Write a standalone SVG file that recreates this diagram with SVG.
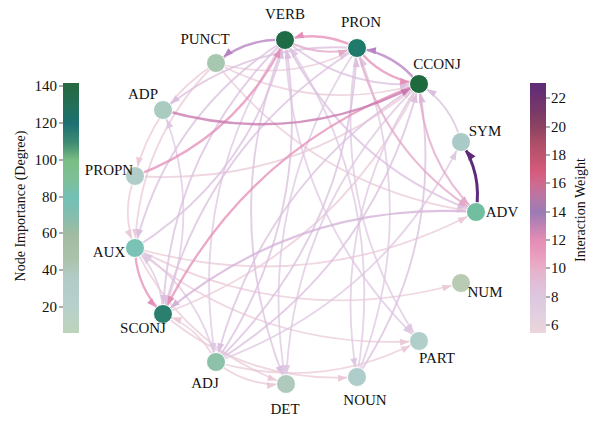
<svg xmlns="http://www.w3.org/2000/svg" width="594" height="421" viewBox="0 0 594 421">
<style>
text{font-family:"Liberation Serif",Tinos,"Times New Roman",Times,"Noto Serif","DejaVu Serif",FreeSerif,serif;font-size:15px;fill:#111}
.cbt{font-size:14px}
.e{fill:none;stroke-opacity:0.78;stroke-linecap:round}
.w6{stroke:#ebcbd9;stroke-width:1.8;marker-end:url(#m6)}
.w7{stroke:#dfc8e1;stroke-width:1.8;marker-end:url(#m7)}
.w8{stroke:#dbc0df;stroke-width:1.9;marker-end:url(#m8)}
.w9{stroke:#d4b2d8;stroke-width:2.1;marker-end:url(#m9)}
.w10{stroke:#e3a9c9;stroke-width:2.1;marker-end:url(#m10)}
.w12{stroke:#e590b9;stroke-width:2.3;marker-end:url(#m12)}
.w14{stroke:#b781c2;stroke-width:2.5;marker-end:url(#m14)}
.w16{stroke:#c878ae;stroke-width:2.5;marker-end:url(#m16)}
.w23{stroke:#5e2b7b;stroke-width:3;marker-end:url(#m23);stroke-opacity:1}
.n{stroke:#fff;stroke-width:1}
.tk{stroke:#333;stroke-width:0.8}
</style>
<defs>
<marker id="m6" viewBox="0 0 9 7" markerWidth="9" markerHeight="7" refX="19" refY="3.5" orient="auto" markerUnits="userSpaceOnUse" overflow="visible"><path d="M0,0 L9,3.5 L0,7 z" fill="#ebcbd9"/></marker>
<marker id="m7" viewBox="0 0 9 7" markerWidth="9" markerHeight="7" refX="19" refY="3.5" orient="auto" markerUnits="userSpaceOnUse" overflow="visible"><path d="M0,0 L9,3.5 L0,7 z" fill="#dfc8e1"/></marker>
<marker id="m8" viewBox="0 0 9 7" markerWidth="9" markerHeight="7" refX="19" refY="3.5" orient="auto" markerUnits="userSpaceOnUse" overflow="visible"><path d="M0,0 L9,3.5 L0,7 z" fill="#dbc0df"/></marker>
<marker id="m9" viewBox="0 0 9 7" markerWidth="9" markerHeight="7" refX="19" refY="3.5" orient="auto" markerUnits="userSpaceOnUse" overflow="visible"><path d="M0,0 L9,3.5 L0,7 z" fill="#d4b2d8"/></marker>
<marker id="m10" viewBox="0 0 9 7" markerWidth="9" markerHeight="7" refX="19" refY="3.5" orient="auto" markerUnits="userSpaceOnUse" overflow="visible"><path d="M0,0 L9,3.5 L0,7 z" fill="#e3a9c9"/></marker>
<marker id="m12" viewBox="0 0 9 7" markerWidth="9" markerHeight="7" refX="19" refY="3.5" orient="auto" markerUnits="userSpaceOnUse" overflow="visible"><path d="M0,0 L9,3.5 L0,7 z" fill="#e590b9"/></marker>
<marker id="m14" viewBox="0 0 9 7" markerWidth="9" markerHeight="7" refX="19" refY="3.5" orient="auto" markerUnits="userSpaceOnUse" overflow="visible"><path d="M0,0 L9,3.5 L0,7 z" fill="#b781c2"/></marker>
<marker id="m16" viewBox="0 0 9 7" markerWidth="9" markerHeight="7" refX="19" refY="3.5" orient="auto" markerUnits="userSpaceOnUse" overflow="visible"><path d="M0,0 L9,3.5 L0,7 z" fill="#c878ae"/></marker>
<marker id="m23" viewBox="0 0 10 8" markerWidth="10" markerHeight="8" refX="20" refY="4" orient="auto" markerUnits="userSpaceOnUse" overflow="visible"><path d="M0,0 L10,4 L0,8 z" fill="#5e2b7b"/></marker>
<linearGradient id="gl" x1="0" y1="0" x2="0" y2="1">
<stop offset="0" stop-color="#27683f"/>
<stop offset="0.1" stop-color="#226f5a"/>
<stop offset="0.16" stop-color="#1c6f72"/>
<stop offset="0.24" stop-color="#3f8b72"/>
<stop offset="0.31" stop-color="#7bbd85"/>
<stop offset="0.38" stop-color="#7ebf96"/>
<stop offset="0.46" stop-color="#73c0b6"/>
<stop offset="0.53" stop-color="#85bdae"/>
<stop offset="0.61" stop-color="#a2bca2"/>
<stop offset="0.7" stop-color="#aac2aa"/>
<stop offset="0.78" stop-color="#b3cbc7"/>
<stop offset="0.88" stop-color="#b6cfcc"/>
<stop offset="1" stop-color="#bdd4ba"/>
</linearGradient>
<linearGradient id="gr" x1="0" y1="0" x2="0" y2="1">
<stop offset="0" stop-color="#5e2b79"/>
<stop offset="0.12" stop-color="#7b3a66"/>
<stop offset="0.18" stop-color="#8e4461"/>
<stop offset="0.24" stop-color="#ad4e68"/>
<stop offset="0.35" stop-color="#d45a7a"/>
<stop offset="0.41" stop-color="#cd6c92"/>
<stop offset="0.46" stop-color="#b577a6"/>
<stop offset="0.52" stop-color="#9c7bb6"/>
<stop offset="0.58" stop-color="#c784b4"/>
<stop offset="0.63" stop-color="#e38eb4"/>
<stop offset="0.69" stop-color="#ea9dbe"/>
<stop offset="0.74" stop-color="#e8afc9"/>
<stop offset="0.8" stop-color="#e0bed6"/>
<stop offset="0.86" stop-color="#dcc8e0"/>
<stop offset="0.93" stop-color="#e3d0df"/>
<stop offset="1" stop-color="#ebd5da"/>
</linearGradient>
</defs>
<g id="connectors">
<path class="e w6" d="M135,176 Q120.6,212 135,248"/>
<path class="e w6" d="M216,63 Q313.3,114.1 419,84"/>
<path class="e w6" d="M216,63 Q289.5,83.7 357,48"/>
<path class="e w6" d="M216,63 Q152.9,103.3 135,176"/>
<path class="e w6" d="M216,63 Q138.5,139.3 135,248"/>
<path class="e w6" d="M135,248 Q312.7,298.2 476,212"/>
<path class="e w6" d="M135,248 Q291,330.7 461,283"/>
<path class="e w6" d="M135,248 Q258.4,351.3 419,341"/>
<path class="e w6" d="M216,362 Q321.7,392.1 419,341"/>
<path class="e w6" d="M216,362 Q246.6,387 286,384"/>
<path class="e w6" d="M163,314 Q247.4,384.3 357,377"/>
<path class="e w6" d="M216,362 Q199.1,327.4 163,314"/>
<path class="e w6" d="M163,314 Q337,250.2 419,84"/>
<path class="e w6" d="M216,63 Q316.2,189.5 476,212"/>
<path class="e w6" d="M135,176 Q295.4,186.8 419,84"/>
<path class="e w6" d="M135,248 Q183.3,346.2 286,384"/>
<path class="e w7" d="M163,314 Q203.8,212 163,110"/>
<path class="e w7" d="M357,377 Q388.4,194.1 285,40"/>
<path class="e w7" d="M357,48 Q254.3,201.8 286,384"/>
<path class="e w7" d="M285,40 Q291.8,217.3 419,341"/>
<path class="e w7" d="M357,48 Q329.4,206.9 419,341"/>
<path class="e w7" d="M285,40 Q186.1,187.2 216,362"/>
<path class="e w7" d="M216,362 Q382.5,301 461,142"/>
<path class="e w7" d="M357,377 Q422.8,212.5 357,48"/>
<path class="e w7" d="M216,362 Q198.3,288.8 135,248"/>
<path class="e w7" d="M163,314 Q162.2,275.4 135,248"/>
<path class="e w7" d="M419,84 Q292.5,207.4 286,384"/>
<path class="e w7" d="M419,84 Q329.4,218.1 357,377"/>
<path class="e w8" d="M285,40 Q343.2,88.8 419,84"/>
<path class="e w8" d="M357,48 Q247.6,40.2 163,110"/>
<path class="e w8" d="M285,40 Q168.4,114 135,248"/>
<path class="e w8" d="M216,362 Q314.9,214.8 285,40"/>
<path class="e w8" d="M216,362 Q373.1,263.6 419,84"/>
<path class="e w8" d="M216,362 Q349.3,233.2 357,48"/>
<path class="e w8" d="M357,377 Q446.6,242.9 419,84"/>
<path class="e w8" d="M285,40 Q216.7,212.2 286,384"/>
<path class="e w8" d="M285,40 Q346.1,164.2 476,212"/>
<path class="e w8" d="M285,40 Q169.2,152.6 163,314"/>
<path class="e w8" d="M357,48 Q206.8,142.2 163,314"/>
<path class="e w8" d="M419,84 Q261.9,182.4 216,362"/>
<path class="e w8" d="M461,142 Q451.6,104.6 419,84"/>
<path class="e w8" d="M135,248 Q251.6,174 285,40"/>
<path class="e w9" d="M476,212 Q299.1,200.4 163,314"/>
<path class="e w10" d="M285,40 Q319.4,58.4 357,48"/>
<path class="e w10" d="M357,48 Q383.7,153.8 476,212"/>
<path class="e w10" d="M419,84 Q421.9,159.4 476,212"/>
<path class="e w12" d="M357,48 Q322.6,29.6 285,40"/>
<path class="e w12" d="M357,48 Q380.8,78.4 419,84"/>
<path class="e w12" d="M135,176 Q237.2,138 285,40"/>
<path class="e w12" d="M135,248 Q135.8,286.6 163,314"/>
<path class="e w12" d="M419,84 Q245,147.8 163,314"/>
<path class="e w14" d="M285,40 Q246,38 216,63"/>
<path class="e w14" d="M419,84 Q395.2,53.6 357,48"/>
<path class="e w16" d="M163,110 Q296.2,148.2 419,84"/>
<path class="e w23" d="M476,212 Q482.5,174 461,142"/>
</g>
<g id="node-VERB"><circle class="n" cx="285" cy="40" r="9.5" fill="#1f6b46"/><text x="285" y="19" text-anchor="middle">VERB</text></g>
<g id="node-PRON"><circle class="n" cx="357" cy="48" r="9.5" fill="#1f7a6b"/><text x="361" y="27" text-anchor="middle">PRON</text></g>
<g id="node-CCONJ"><circle class="n" cx="419" cy="84" r="9.5" fill="#1e6a3e"/><text x="437" y="69" text-anchor="middle">CCONJ</text></g>
<g id="node-SYM"><circle class="n" cx="461" cy="142" r="9.5" fill="#a9cac6"/><text x="485" y="136" text-anchor="middle">SYM</text></g>
<g id="node-ADV"><circle class="n" cx="476" cy="212" r="9.5" fill="#72bea0"/><text x="502" y="217" text-anchor="middle">ADV</text></g>
<g id="node-NUM"><circle class="n" cx="461" cy="283" r="9.5" fill="#b9cbb3"/><text x="485" y="297" text-anchor="middle">NUM</text></g>
<g id="node-PART"><circle class="n" cx="419" cy="341" r="9.5" fill="#b0cfcb"/><text x="437" y="363" text-anchor="middle">PART</text></g>
<g id="node-NOUN"><circle class="n" cx="357" cy="377" r="9.5" fill="#afcdcb"/><text x="365" y="405" text-anchor="middle">NOUN</text></g>
<g id="node-DET"><circle class="n" cx="286" cy="384" r="9.5" fill="#afcabd"/><text x="285" y="414" text-anchor="middle">DET</text></g>
<g id="node-ADJ"><circle class="n" cx="216" cy="362" r="9.5" fill="#8ec1a9"/><text x="205" y="388" text-anchor="middle">ADJ</text></g>
<g id="node-SCONJ"><circle class="n" cx="163" cy="314" r="9.5" fill="#2a7f6e"/><text x="143" y="333" text-anchor="middle">SCONJ</text></g>
<g id="node-AUX"><circle class="n" cx="135" cy="248" r="9.5" fill="#79c2b5"/><text x="109" y="257" text-anchor="middle">AUX</text></g>
<g id="node-PROPN"><circle class="n" cx="135" cy="176" r="9.5" fill="#b0cdca"/><text x="109" y="175" text-anchor="middle">PROPN</text></g>
<g id="node-ADP"><circle class="n" cx="163" cy="110" r="9.5" fill="#aacbc0"/><text x="143" y="99" text-anchor="middle">ADP</text></g>
<g id="node-PUNCT"><circle class="n" cx="216" cy="63" r="9.5" fill="#a7c8b0"/><text x="205" y="44" text-anchor="middle">PUNCT</text></g>
<g id="colorbar-left">
<rect x="63" y="83" width="16" height="250" fill="url(#gl)"/>
<line class="tk" x1="59" y1="86" x2="63" y2="86"/><text x="57" y="91" text-anchor="end">140</text>
<line class="tk" x1="59" y1="123" x2="63" y2="123"/><text x="57" y="128" text-anchor="end">120</text>
<line class="tk" x1="59" y1="160" x2="63" y2="160"/><text x="57" y="165" text-anchor="end">100</text>
<line class="tk" x1="59" y1="197" x2="63" y2="197"/><text x="57" y="202" text-anchor="end">80</text>
<line class="tk" x1="59" y1="233" x2="63" y2="233"/><text x="57" y="238" text-anchor="end">60</text>
<line class="tk" x1="59" y1="270" x2="63" y2="270"/><text x="57" y="275" text-anchor="end">40</text>
<line class="tk" x1="59" y1="307" x2="63" y2="307"/><text x="57" y="312" text-anchor="end">20</text>
<text class="cbt" transform="translate(25,206) rotate(-90)" text-anchor="middle">Node Importance (Degree)</text>
</g>
<g id="colorbar-right">
<rect x="530" y="83" width="16" height="250" fill="url(#gr)"/>
<line class="tk" x1="546" y1="98" x2="550" y2="98"/><text x="551" y="103">22</text>
<line class="tk" x1="546" y1="127" x2="550" y2="127"/><text x="551" y="132">20</text>
<line class="tk" x1="546" y1="155" x2="550" y2="155"/><text x="551" y="160">18</text>
<line class="tk" x1="546" y1="183" x2="550" y2="183"/><text x="551" y="188">16</text>
<line class="tk" x1="546" y1="212" x2="550" y2="212"/><text x="551" y="217">14</text>
<line class="tk" x1="546" y1="240" x2="550" y2="240"/><text x="551" y="245">12</text>
<line class="tk" x1="546" y1="268" x2="550" y2="268"/><text x="551" y="273">10</text>
<line class="tk" x1="546" y1="297" x2="550" y2="297"/><text x="551" y="302">8</text>
<line class="tk" x1="546" y1="325" x2="550" y2="325"/><text x="551" y="330">6</text>
<text class="cbt" transform="translate(585,210) rotate(-90)" text-anchor="middle">Interaction Weight</text>
</g>
</svg>
